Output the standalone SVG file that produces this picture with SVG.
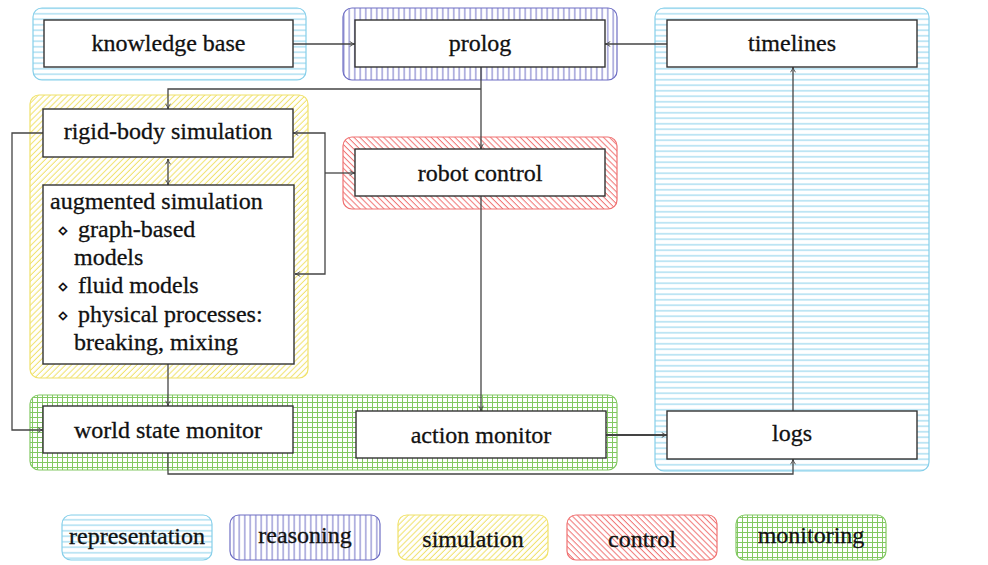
<svg xmlns="http://www.w3.org/2000/svg" width="988" height="565" viewBox="0 0 988 565">
<style>
.node{fill:#fff;stroke:#333;stroke-width:1.4}
.t{font-family:'Liberation Serif','Times New Roman',serif;font-size:24px;fill:#111;stroke:#111;stroke-width:0.3}
.c{text-anchor:middle}
.rep{fill:url(#pRep);stroke:#86cfea;stroke-width:1.2}
.rea{fill:url(#pRea);stroke:#6e6ec4;stroke-width:1.2}
.sim{fill:url(#pSim);stroke:#f0e26a;stroke-width:1.2}
.ctl{fill:url(#pCtl);stroke:#f07272;stroke-width:1.2}
.mon{fill:url(#pMon);stroke:#82c862;stroke-width:1.2}
.e{fill:none;stroke:#444;stroke-width:1.3}
.ea{marker-end:url(#arr)}
.dm{font-family:'DejaVu Sans',sans-serif;font-size:19px;stroke-width:0}
</style>
<defs>
<pattern id="pRep" width="5.5" height="5.5" patternUnits="userSpaceOnUse"><path d="M0 2.75H5.5" stroke="#86cfea" stroke-width="1"/></pattern>
<pattern id="pRea" width="5.5" height="5" patternUnits="userSpaceOnUse"><path d="M2.75 0V5" stroke="#6e6ec4" stroke-width="1"/></pattern>
<pattern id="pSim" width="4.2" height="10" patternUnits="userSpaceOnUse" patternTransform="rotate(45)"><path d="M2 0V10" stroke="#f0e26a" stroke-width="1"/></pattern>
<pattern id="pCtl" width="4.2" height="10" patternUnits="userSpaceOnUse" patternTransform="rotate(-45)"><path d="M2 0V10" stroke="#f07272" stroke-width="1"/></pattern>
<pattern id="pMon" width="5" height="5" patternUnits="userSpaceOnUse"><path d="M2.5 0V5M0 2.5H5" stroke="#82c862" stroke-width="1"/></pattern>
<marker id="arr" viewBox="0 0 10 10" refX="9.5" refY="5" markerWidth="7" markerHeight="7" markerUnits="userSpaceOnUse" orient="auto-start-reverse"><path d="M2 1.5Q6 4.5 9.5 5Q6 5.5 2 8.5" fill="none" stroke="#444" stroke-width="1.3"/></marker>
</defs>

<g id="regions">
<rect id="region-representation-kb" class="rep" x="33" y="8" width="273" height="72" rx="9"/>
<rect id="region-reasoning" class="rea" x="343" y="8" width="274" height="72" rx="9"/>
<rect id="region-representation-right" class="rep" x="655" y="8" width="274" height="463" rx="9"/>
<rect id="region-simulation" class="sim" x="30" y="95" width="278" height="283" rx="9"/>
<rect id="region-control" class="ctl" x="343" y="137" width="274" height="72" rx="9"/>
<rect id="region-monitoring" class="mon" x="30" y="395" width="587" height="75" rx="9"/>
</g>

<g id="connectors">
<path class="e ea" d="M293 44H355"/>
<path class="e ea" d="M667 44H605"/>
<path class="e ea" d="M481 67V149"/>
<path class="e ea" d="M481 89H168V109"/>
<path class="e ea" d="M168 159V185" marker-start="url(#arr)"/>
<path class="e ea" d="M43 133H12V430H43"/>
<path class="e ea" d="M325 173H355"/>
<path class="e ea" d="M325 173V133H293"/>
<path class="e ea" d="M325 173V274H295"/>
<path class="e ea" d="M168 364V406"/>
<path class="e ea" d="M481 196V411"/>
<path class="e ea" d="M168 453V474H793V459"/>
<path class="e ea" d="M606 435H667" style="stroke-width:1.9"/>
<path class="e ea" d="M793 411V67"/>
</g>

<g id="knowledge-base"><rect class="node" x="44" y="20" width="249" height="47"/><text class="t c" x="168.5" y="51">knowledge base</text></g>
<g id="prolog"><rect class="node" x="355" y="20" width="250" height="47"/><text class="t c" x="480" y="51">prolog</text></g>
<g id="timelines"><rect class="node" x="667" y="20" width="250" height="47"/><text class="t c" x="792" y="51">timelines</text></g>
<g id="rigid-body-simulation"><rect class="node" x="43" y="109" width="250" height="48"/><text class="t c" x="168" y="139">rigid-body simulation</text></g>
<g id="augmented-simulation"><rect class="node" x="43" y="185" width="251" height="179"/>
<text class="t" x="50" y="209">augmented simulation</text>
<text class="t" y="237"><tspan class="dm" x="57">⋄</tspan><tspan x="78">graph-based</tspan></text>
<text class="t" x="74" y="265">models</text>
<text class="t" y="293"><tspan class="dm" x="57">⋄</tspan><tspan x="78">fluid models</tspan></text>
<text class="t" y="322"><tspan class="dm" x="57">⋄</tspan><tspan x="78">physical processes:</tspan></text>
<text class="t" x="74" y="350">breaking, mixing</text>
</g>
<g id="robot-control"><rect class="node" x="355" y="149" width="250" height="47"/><text class="t c" x="480" y="181">robot control</text></g>
<g id="world-state-monitor"><rect class="node" x="43" y="406" width="250" height="47"/><text class="t c" x="168" y="438">world state monitor</text></g>
<g id="action-monitor"><rect class="node" x="356" y="411" width="250" height="47"/><text class="t c" x="481" y="443">action monitor</text></g>
<g id="logs"><rect class="node" x="667" y="411" width="250" height="48"/><text class="t c" x="792" y="441">logs</text></g>

<g id="legend">
<g id="legend-representation"><rect class="rep" x="62" y="515" width="150" height="45" rx="9"/><text class="t c" x="137" y="544">representation</text></g>
<g id="legend-reasoning"><rect class="rea" x="230" y="515" width="150" height="45" rx="9"/><text class="t c" x="305" y="543">reasoning</text></g>
<g id="legend-simulation"><rect class="sim" x="398" y="515" width="150" height="45" rx="9"/><text class="t c" x="473" y="547">simulation</text></g>
<g id="legend-control"><rect class="ctl" x="567" y="515" width="150" height="45" rx="9"/><text class="t c" x="642" y="547">control</text></g>
<g id="legend-monitoring"><rect class="mon" x="736" y="515" width="150" height="45" rx="9"/><text class="t c" x="811" y="543">monitoring</text></g>
</g>
</svg>
